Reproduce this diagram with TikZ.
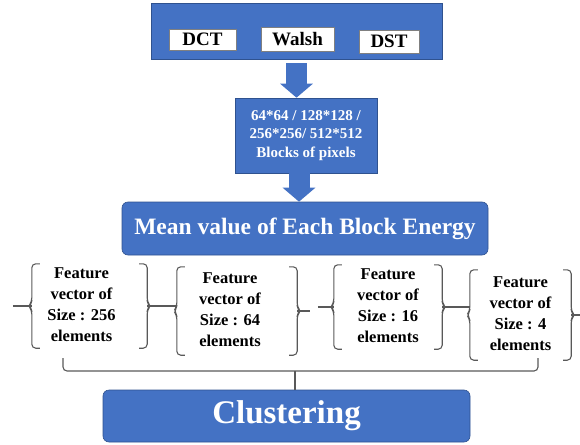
\documentclass[tikz,border=0pt]{standalone}
\usepackage{fontspec}
\setmainfont{Liberation Serif}
\usetikzlibrary{arrows.meta}

\definecolor{boxblue}{HTML}{4472C4}
\definecolor{boxline}{HTML}{2F528F}
\definecolor{brcgray}{HTML}{595959}

\tikzset{
  bluebox/.style={draw=boxline,line width=0.6pt,fill=boxblue,text=white,inner sep=0,align=center},
  tagbox/.style={draw=gray,line width=0.6pt,fill=white,inner sep=0,font=\fontsize{19}{22}\selectfont\bfseries},
  featbox/.style={inner sep=0,font=\fontsize{16.5}{21}\selectfont\bfseries},
  brc/.style={draw=brcgray,line width=1.1pt,rounded corners=4pt},
  barrow/.style={draw=boxblue,line width=21pt,-{Triangle[width=32pt,length=14pt]}}
}

\begin{document}
\begin{tikzpicture}[x=1pt,y=-1pt]
  \useasboundingbox (0,0) rectangle (580,444);

  \node (trans) at (296.5,31) [bluebox,minimum width=291pt,minimum height=56pt]{};
  \node (dct) at (202.5,39.5) [tagbox,minimum width=67pt,minimum height=21pt]{DCT};
  \node (walsh) at (297.5,39) [tagbox,minimum width=73pt,minimum height=24pt]{Walsh};
  \node (dst) at (389,41.5) [tagbox,minimum width=60pt,minimum height=23pt]{DST};

  \node (blocks) at (306,135.5) [bluebox,minimum width=142pt,minimum height=75pt,
    font=\fontsize{15}{18.5}\selectfont\bfseries]{64*64 / 128*128 /\\256*256/ 512*512\\Blocks of pixels};

  \node (mean) at (305,228.5) [bluebox,rounded corners=6pt,minimum width=366pt,minimum height=53pt,
    font=\fontsize{23.5}{28}\selectfont\bfseries]{Mean value of Each Block Energy};

  \node (f1) at (89.5,306) [featbox,minimum width=115pt,minimum height=82pt]
    {\begin{tabular}{@{}c@{}}Feature\\vector of\\Size : 256\\elements\end{tabular}\kern16pt};
  \node (f2) at (237,311) [featbox,minimum width=120pt,minimum height=88pt]
    {\begin{tabular}{@{}c@{}}Feature\\vector of\\Size : 64\\elements\end{tabular}\kern14pt};
  \node (f3) at (388,307) [featbox,minimum width=108pt,minimum height=84pt]
    {\begin{tabular}{@{}c@{}}Feature\\vector of\\Size : 16\\elements\end{tabular}};
  \node (f4) at (520.5,315) [featbox,minimum width=101pt,minimum height=90pt]
    {\begin{tabular}{@{}c@{}}Feature\\vector of\\Size : 4\\elements\end{tabular}};

  \node (clust) at (286.5,416) [bluebox,rounded corners=6pt,minimum width=367pt,minimum height=52pt,
    font=\fontsize{33}{38}\selectfont\bfseries]{Clustering};

  \coordinate (t1) at ([xshift=-19pt]f1.west);
  \coordinate (t2) at ([xshift=13pt]f2.east);
  \coordinate (t3) at ([xshift=-16pt]f3.west);
  \coordinate (t4) at ([xshift=10pt]f4.east);
  \coordinate (bl) at (63,358);
  \coordinate (br) at (538,358);
  \coordinate (bm) at (295,371);


  \draw[barrow] ([yshift=-4pt]trans.south) -- (trans.south |- blocks.north);
  \draw[barrow] ([xshift=-7pt]blocks.south) -- ([xshift=-7pt]blocks.south |- mean.north);

  \foreach \n in {f1,f2,f3,f4}{
    \draw[brc] ([xshift=8pt]\n.north west) -- (\n.north west) -- ([yshift=4pt]\n.west)
      -- ([xshift=-3pt]\n.west) -- ([yshift=-4pt]\n.west) -- (\n.south west) -- ([xshift=8pt]\n.south west);
    \draw[brc] ([xshift=-8pt]\n.north east) -- (\n.north east) -- ([yshift=4pt]\n.east)
      -- ([xshift=3pt]\n.east) -- ([yshift=-4pt]\n.east) -- (\n.south east) -- ([xshift=-8pt]\n.south east);
  }

  \draw[brc] (t1) -- (f1.west);
  \draw[brc] (f1.east) -- (f1.east -| f2.west);
  \draw[brc] (f2.east) -- (t2);
  \draw[brc] (t3) -- (f3.west);
  \draw[brc] (f3.east) -- (f3.east -| f4.west);
  \draw[brc] (f4.east) -- (t4);

  \draw[brc] (bl) |- (bm) -| (br);
  \draw[brc] (bm) -- (bm |- clust.north);

\end{tikzpicture}
\end{document}
